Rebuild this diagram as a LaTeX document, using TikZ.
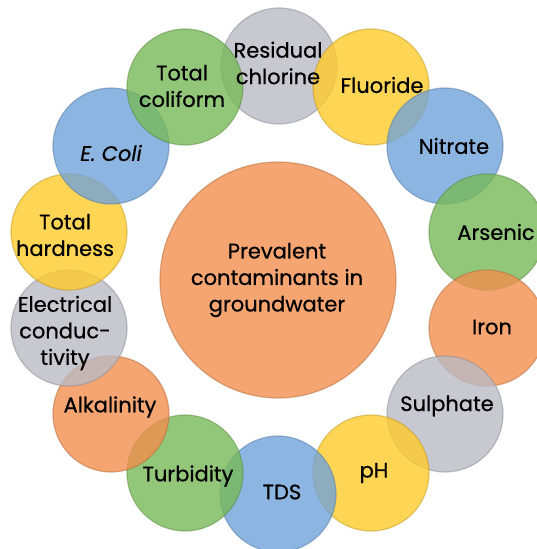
\documentclass[tikz,border=0pt]{standalone}
\usepackage{fontspec}
\setmainfont{Poppins}
\newfontfamily\bubfont{Poppins}[FakeBold=0.6]
\definecolor{cgreen}{HTML}{77B959}
\definecolor{cblue}{HTML}{71A3D9}
\definecolor{cyellow}{HTML}{FFCB2B}
\definecolor{cgray}{HTML}{BABAC4}
\definecolor{corange}{HTML}{F18F4E}
\tikzset{
  bub/.style={circle, minimum size=116pt, inner sep=0pt, fill=#1, fill opacity=0.8,
     draw=#1!75!black, draw opacity=0.5, line width=1.2pt},
  bubtxt/.style={align=center, font=\bubfont\fontsize{21}{26.5}\selectfont, text=black, inner sep=0pt},
}
\begin{document}
\begin{tikzpicture}[x=1pt,y=-1pt]
\useasboundingbox (0,0) rectangle (537,549);
\clip (0,0) rectangle (537,549);
% centre
\node[circle, minimum size=236pt, inner sep=0pt, fill=corange, fill opacity=0.8,
  draw=corange!75!black, draw opacity=0.5, line width=1.2pt] (c) at (278,280) {};
\node[bubtxt] (ct) at (277,280) {Prevalent\\contaminants in\\groundwater};
% ring
\node[bub=cgray]   (b1)  at (279,66)  {};
\node[bub=cyellow] (b2)  at (371,87)  {};
\node[bub=cblue]   (b3)  at (445,146) {};
\node[bub=cgreen]  (b4)  at (487,232) {};
\node[bub=corange] (b5)  at (487,328) {};
\node[bub=cgray]   (b6)  at (445,414) {};
\node[bub=cyellow] (b7)  at (371,473) {};
\node[bub=cblue]   (b8)  at (278,494) {};
\node[bub=cgreen]  (b9)  at (185,473) {};
\node[bub=corange] (b10) at (111,414) {};
\node[bub=cgray]   (b11) at (69,328)  {};
\node[bub=cyellow] (b12) at (69,232)  {};
\node[bub=cblue]   (b13) at (111,146) {};
\node[bub=cgreen]  (b14) at (185,87)  {};
% labels
\node[bubtxt] (t1)  at (278,63)  {Residual\\chlorine};
\node[bubtxt] (t2)  at (382,85)  {Fluoride};
\node[bubtxt] (t3)  at (454,146) {Nitrate};
\node[bubtxt] (t4)  at (496,232) {Arsenic};
\node[bubtxt] (t5)  at (492,327) {Iron};
\node[bubtxt] (t6)  at (447,406) {Sulphate};
\node[bubtxt] (t7)  at (374,473) {pH};
\node[bubtxt] (t8)  at (282,492) {TDS};
\node[bubtxt] (t9)  at (188,476) {Turbidity};
\node[bubtxt] (t10) at (110,407) {Alkalinity};
\node[bubtxt] (t11) at (65,333)  {Electrical\\conduc-\\tivity};
\node[bubtxt] (t12) at (65,235)  {Total\\hardness};
\node[bubtxt] (t13) at (111,153) {\itshape E. Coli};
\node[bubtxt] (t14) at (182,86)  {Total\\coliform};
\end{tikzpicture}
\end{document}
